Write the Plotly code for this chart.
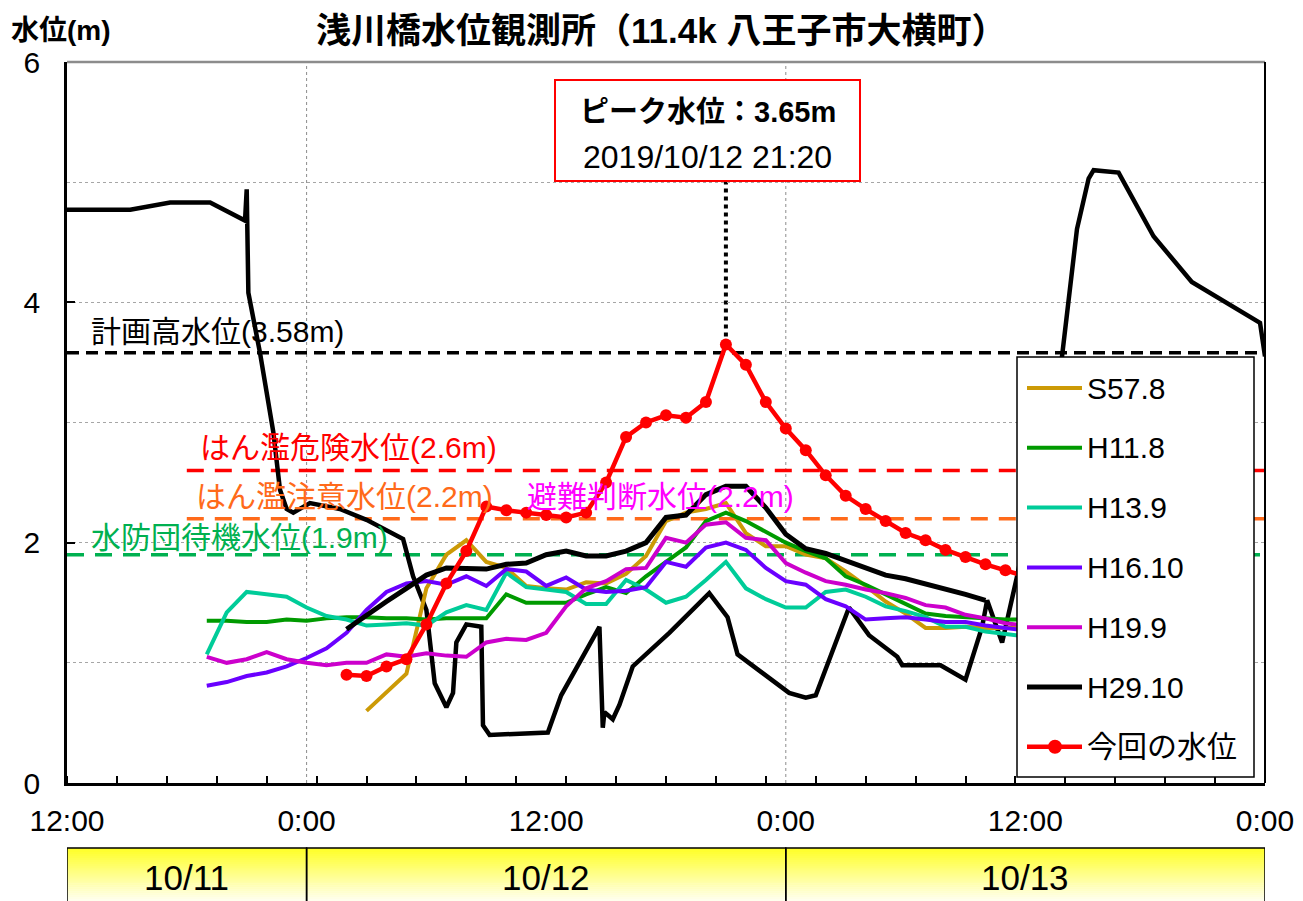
import plotly.graph_objects as go
import pandas as pd

# ---------------- data ----------------
TITLE = "浅川橋水位観測所（11.4k 八王子市大横町）"
Y_TITLE = "水位(m)"
X_RANGE = ["2019-10-11 12:00", "2019-10-14 00:00"]
X_TICKS = ["2019-10-11 12:00", "2019-10-12 00:00", "2019-10-12 12:00",
           "2019-10-13 00:00", "2019-10-13 12:00", "2019-10-14 00:00"]
X_TICKTEXT = ["12:00", "0:00", "12:00", "0:00", "12:00", "0:00"]
DAY_BANDS = [("2019-10-11 12:00", "2019-10-12 00:00", "10/11"),
             ("2019-10-12 00:00", "2019-10-13 00:00", "10/12"),
             ("2019-10-13 00:00", "2019-10-14 00:00", "10/13")]
Y_TICKS = [0, 2, 4, 6]

# hourly series (start time, values)
S57_8_START = "2019-10-12 03:00"
S57_8 = [0.60, 0.76, 0.91, 1.62, 1.90, 2.02, 1.84, 1.79, 1.64, 1.62, 1.61, 1.67,
         1.66, 1.74, 1.89, 2.18, 2.25, 2.28, 2.33, 2.08, 1.97, 1.97, 1.90, 1.87,
         1.76, 1.64, 1.51, 1.41, 1.29, 1.29, 1.30, 1.29, 1.29, 1.29]

H11_8_START = "2019-10-11 19:00"
H11_8 = [1.35, 1.35, 1.34, 1.34, 1.36,
         1.35, 1.37, 1.38, 1.38, 1.37, 1.37, 1.36, 1.37, 1.37, 1.37, 1.57, 1.50,
         1.50, 1.50, 1.57, 1.63, 1.58, 1.72, 1.84, 1.96, 2.18, 2.25, 2.18, 2.09,
         2.00, 1.93, 1.87, 1.72, 1.65, 1.57, 1.49, 1.41, 1.39, 1.38, 1.37, 1.36, 1.36]

H13_9_START = "2019-10-11 19:00"
H13_9 = [1.07, 1.42, 1.59, 1.57, 1.55,
         1.46, 1.39, 1.36, 1.31, 1.32, 1.33, 1.31, 1.42, 1.48, 1.44, 1.75, 1.63,
         1.61, 1.59, 1.49, 1.49, 1.69, 1.61, 1.50, 1.55, 1.69, 1.84, 1.62, 1.53,
         1.46, 1.46, 1.59, 1.61, 1.55, 1.47, 1.43, 1.38, 1.30, 1.30, 1.26, 1.24, 1.22]

H16_10_START = "2019-10-11 19:00"
H16_10 = [0.81, 0.84, 0.89, 0.92, 0.97,
          1.04, 1.12, 1.25, 1.44, 1.59, 1.66, 1.68, 1.65, 1.72, 1.64, 1.78, 1.76,
          1.64, 1.71, 1.61, 1.59, 1.60, 1.63, 1.84, 1.80, 1.96, 2.00, 1.94, 1.79,
          1.68, 1.65, 1.53, 1.47, 1.36, 1.37, 1.38, 1.36, 1.34, 1.34, 1.31, 1.29, 1.27]

H19_9_START = "2019-10-11 19:00"
H19_9 = [1.05, 1.00, 1.03, 1.09, 1.03,
         1.00, 0.98, 1.00, 1.00, 1.07, 1.05, 1.08, 1.06, 1.05, 1.17, 1.20, 1.19,
         1.25, 1.47, 1.62, 1.68, 1.78, 1.79, 2.04, 2.00, 2.15, 2.17, 2.04, 2.02,
         1.83, 1.75, 1.68, 1.65, 1.61, 1.58, 1.54, 1.48, 1.46, 1.40, 1.37, 1.33, 1.31]

H29_10_START = "2019-10-12 02:00"
H29_10 = [1.28, 1.40, 1.51, 1.62, 1.73, 1.79, 1.79, 1.78, 1.82, 1.83, 1.90, 1.93,
          1.89, 1.89, 1.93, 2.00, 2.21, 2.23, 2.40, 2.47, 2.47, 2.29,
          2.07, 1.95, 1.91, 1.85, 1.79, 1.73, 1.70, 1.66, 1.61, 1.57, 1.52]

NOW_START = "2019-10-12 02:00"
NOW = [0.90, 0.89, 0.97, 1.03, 1.32, 1.66, 1.93, 2.30, 2.27, 2.25, 2.23, 2.21,
       2.25, 2.50, 2.88, 3.00, 3.06, 3.04, 3.17, 3.65, 3.48, 3.17,
       2.95, 2.77, 2.56, 2.39, 2.28, 2.18, 2.08, 2.02, 1.94, 1.88, 1.82, 1.77, 1.72]

# irregular black record (no legend entry)
BLACK2_T = ["2019-10-11 12:00", "2019-10-11 15:10", "2019-10-11 17:10", "2019-10-11 19:10",
            "2019-10-11 20:55", "2019-10-11 21:00", "2019-10-11 21:05", "2019-10-11 21:40",
            "2019-10-11 22:20", "2019-10-11 22:40", "2019-10-11 23:00", "2019-10-11 23:20",
            "2019-10-12 00:10", "2019-10-12 01:40", "2019-10-12 03:00", "2019-10-12 04:50",
            "2019-10-12 05:20", "2019-10-12 06:00", "2019-10-12 06:25", "2019-10-12 07:00",
            "2019-10-12 07:20", "2019-10-12 07:30", "2019-10-12 08:00", "2019-10-12 08:45",
            "2019-10-12 08:50", "2019-10-12 09:10", "2019-10-12 12:05", "2019-10-12 12:45",
            "2019-10-12 14:40", "2019-10-12 14:50", "2019-10-12 14:55", "2019-10-12 15:20",
            "2019-10-12 15:40", "2019-10-12 16:20", "2019-10-12 18:10", "2019-10-12 20:10",
            "2019-10-12 21:05", "2019-10-12 21:35", "2019-10-13 00:10", "2019-10-13 01:00",
            "2019-10-13 01:30", "2019-10-13 03:10", "2019-10-13 04:10", "2019-10-13 05:35",
            "2019-10-13 05:50", "2019-10-13 07:45", "2019-10-13 09:00", "2019-10-13 09:50",
            "2019-10-13 10:05", "2019-10-13 10:50", "2019-10-13 11:35", "2019-10-13 13:50",
            "2019-10-13 14:35", "2019-10-13 15:10", "2019-10-13 15:25", "2019-10-13 16:40",
            "2019-10-13 18:25", "2019-10-13 20:20", "2019-10-13 23:45", "2019-10-14 00:00"]
BLACK2_V = [4.77, 4.77, 4.83, 4.83,
            4.68, 4.94, 4.08, 3.58,
            2.92, 2.44, 2.28, 2.25,
            2.33, 2.28, 2.19, 2.03,
            1.72, 1.44, 0.83, 0.63,
            0.75, 1.17, 1.32, 1.30,
            0.48, 0.40, 0.42, 0.73,
            1.30, 0.46, 0.59, 0.53,
            0.65, 0.97, 1.25, 1.58,
            1.38, 1.07, 0.75, 0.71,
            0.73, 1.46, 1.23, 1.05,
            0.98, 0.98, 0.86, 1.30,
            1.52, 1.17, 1.72, 3.55,
            4.61, 5.03, 5.10, 5.08,
            4.55, 4.17, 3.83, 3.55]

# reference levels
LEVELS = [  # (value, label, color, line start)
    (3.58, "計画高水位(3.58m)", "#000000", "2019-10-11 12:00"),
    (2.6, "はん濫危険水位(2.6m)", "#FF0000", "2019-10-11 18:00"),
    (2.2, "はん濫注意水位(2.2m)", "#FF6A1A", "2019-10-11 18:00"),
    (1.9, "水防団待機水位(1.9m)", "#00B050", "2019-10-11 12:00"),
]
EXTRA_LABEL = "避難判断水位(2.2m)"
PEAK_TEXT1 = "ピーク水位：3.65m"
PEAK_TEXT2 = "2019/10/12 21:20"

# ---------------- styles ----------------
FONT = "Liberation Sans, Noto Sans CJK JP, sans-serif"
SERIES = [  # (name, start, values, color, width)
    ("S57.8", S57_8_START, S57_8, "#CC9A06", 4),
    ("H11.8", H11_8_START, H11_8, "#009A00", 4),
    ("H13.9", H13_9_START, H13_9, "#00CC99", 4),
    ("H16.10", H16_10_START, H16_10, "#6A00FF", 4),
    ("H19.9", H19_9_START, H19_9, "#CC00CC", 4),
    ("H29.10", H29_10_START, H29_10, "#000000", 5),
]
NOW_NAME = "今回の水位"
NOW_COLOR = "#FF0000"

# pixel layout of plot area (screen coordinates; page has an 8px body offset)
OFF = 8
PL, PR, PT, PB = 67, 1265, 62, 783
W, H = 1303 - OFF, 901 - OFF


def px_x(p):
    return (p - PL) / (PR - PL)


def px_y(p):
    return (PB - p) / (PB - PT)


def hourly(start, n):
    return pd.date_range(start, periods=n, freq="h")


fig = go.Figure()

# black irregular record
fig.add_trace(go.Scatter(x=pd.to_datetime(BLACK2_T), y=BLACK2_V, mode="lines",
                         line=dict(color="black", width=4.5), name="", showlegend=False,
                         hoverinfo="x+y"))

for name, start, vals, color, width in SERIES:
    fig.add_trace(go.Scatter(x=hourly(start, len(vals)), y=vals, mode="lines",
                             line=dict(color=color, width=width), name=name))

now_x = hourly(NOW_START, len(NOW))
fig.add_trace(go.Scatter(x=now_x, y=NOW, mode="lines+markers", name=NOW_NAME,
                         line=dict(color=NOW_COLOR, width=4.5),
                         marker=dict(color=NOW_COLOR, size=12)))

shapes = []
annotations = []

# vertical dotted grid lines at 0:00
for t in ["2019-10-12 00:00", "2019-10-13 00:00"]:
    shapes.append(dict(type="line", xref="x", yref="paper", x0=t, x1=t, y0=0, y1=1,
                       line=dict(color="#8C8C8C", width=1, dash="dot"), layer="below"))

# reference level lines + labels
label_shift = {3.58: 21, 2.6: 23, 2.2: 22, 1.9: 17}
label_x = {3.58: 89, 2.6: 198, 2.2: 194, 1.9: 89}
dash_pat = {3.58: "12px,7px", 2.6: "17px,11px", 2.2: "17px,11px", 1.9: "17px,11px"}
for val, lab, col, start in LEVELS:
    shapes.append(dict(type="line", xref="x", yref="y", x0=start, x1=X_RANGE[1],
                       y0=val, y1=val, line=dict(color=col, width=3.5, dash=dash_pat[val]),
                       layer="below"))
    annotations.append(dict(xref="paper", yref="y", x=px_x(label_x[val]), y=val,
                            yshift=label_shift[val], xanchor="left", yanchor="middle",
                            text=lab, showarrow=False,
                            font=dict(family=FONT, size=30, color=col)))
annotations.append(dict(xref="paper", yref="y", x=px_x(525), y=2.2, yshift=22,
                        xanchor="left", yanchor="middle", text=EXTRA_LABEL, showarrow=False,
                        font=dict(family=FONT, size=30, color="#FF00FF")))

# peak marker line and box
peak_i = max(range(len(NOW)), key=lambda i: NOW[i])
peak_t = now_x[peak_i]
box_l, box_r, box_t, box_b = 555, 860, 80, 181
shapes.append(dict(type="line", xref="x", yref="y", x0=peak_t, x1=peak_t,
                   y0=NOW[peak_i], y1=(PB - box_b) / (PB - PT) * 6,
                   line=dict(color="black", width=4, dash="dot"), layer="below"))
shapes.append(dict(type="rect", xref="paper", yref="paper",
                   x0=px_x(box_l), x1=px_x(box_r), y0=px_y(box_b), y1=px_y(box_t),
                   fillcolor="white", line=dict(color="#FF0000", width=2), layer="above"))
annotations.append(dict(xref="paper", yref="paper", x=px_x((box_l + box_r) / 2), y=px_y(112),
                        text="<b>" + PEAK_TEXT1 + "</b>", showarrow=False,
                        xanchor="center", yanchor="middle",
                        font=dict(family=FONT, size=29, color="black")))
annotations.append(dict(xref="paper", yref="paper", x=px_x((box_l + box_r) / 2), y=px_y(157),
                        text=PEAK_TEXT2, showarrow=False, xanchor="center", yanchor="middle",
                        font=dict(family=FONT, size=32, color="black")))

# plot frame: top gray, right black
shapes.append(dict(type="line", xref="paper", yref="paper", x0=0, x1=1, y0=1, y1=1,
                   line=dict(color="#8C8C8C", width=2.5), layer="above"))
shapes.append(dict(type="line", xref="paper", yref="paper", x0=1, x1=1, y0=0, y1=1,
                   line=dict(color="black", width=2), layer="above"))

# manual legend
lg_l, lg_r, lg_t, lg_b = 1017, 1254, 357, 777
shapes.append(dict(type="rect", xref="paper", yref="paper",
                   x0=px_x(lg_l), x1=px_x(lg_r), y0=px_y(lg_b), y1=px_y(lg_t),
                   fillcolor="white", line=dict(color="black", width=1.5), layer="above"))
legend_items = [(n, c, w, False) for n, _, _, c, w in SERIES] + [(NOW_NAME, NOW_COLOR, 4.5, True)]
for i, (n, c, w, mk) in enumerate(legend_items):
    yc = 388 + i * 59.8
    shapes.append(dict(type="line", xref="paper", yref="paper",
                       x0=px_x(1027), x1=px_x(1082), y0=px_y(yc), y1=px_y(yc),
                       line=dict(color=c, width=w), layer="above"))
    if mk:
        r = 7
        shapes.append(dict(type="circle", xref="paper", yref="paper",
                           x0=px_x(1055 - r), x1=px_x(1055 + r),
                           y0=px_y(yc + r), y1=px_y(yc - r),
                           fillcolor=c, line=dict(color=c, width=0), layer="above"))
    annotations.append(dict(xref="paper", yref="paper", x=px_x(1085), y=px_y(yc),
                            xanchor="left", yanchor="middle", text=n, showarrow=False,
                            font=dict(family=FONT, size=30, color="black")))

# date band under the axis (vertical yellow gradient)
band_top, band_bot = 848, 903
n_strips = 28
step = (band_bot - band_top) / n_strips
for k in range(n_strips):
    f = k / (n_strips - 1)
    b = int(round(40 + f * (245 - 40)))
    col = f"rgb(255,255,{b})"
    shapes.append(dict(type="rect", xref="paper", yref="paper",
                       x0=0, x1=1, y0=px_y(band_top + (k + 1) * step + 0.5),
                       y1=px_y(band_top + k * step), fillcolor=col,
                       line=dict(width=0), layer="above"))
for t0, t1, lab in DAY_BANDS:
    shapes.append(dict(type="rect", xref="x", yref="paper", x0=t0, x1=t1,
                       y0=px_y(band_bot), y1=px_y(band_top),
                       line=dict(color="black", width=1.5), fillcolor="rgba(0,0,0,0)",
                       layer="above"))
    mid = pd.Timestamp(t0) + (pd.Timestamp(t1) - pd.Timestamp(t0)) / 2
    annotations.append(dict(xref="x", yref="paper", x=mid, y=px_y(877), text=lab,
                            showarrow=False, xanchor="center", yanchor="middle",
                            font=dict(family=FONT, size=35, color="black")))

# title and y-axis caption
annotations.append(dict(xref="paper", yref="paper", x=px_x(661), y=px_y(30),
                        text="<b>" + TITLE + "</b>", showarrow=False,
                        xanchor="center", yanchor="middle",
                        font=dict(family=FONT, size=35, color="black")))
annotations.append(dict(xref="paper", yref="paper", x=px_x(9), y=px_y(30),
                        text="<b>" + Y_TITLE + "</b>", showarrow=False,
                        xanchor="left", yanchor="middle",
                        font=dict(family=FONT, size=28, color="black")))

fig.update_layout(
    width=W, height=H,
    margin=dict(l=PL - OFF, r=(W + OFF) - PR, t=PT - OFF, b=(H + OFF) - PB, pad=0,
                autoexpand=False),
    plot_bgcolor="white", paper_bgcolor="white",
    showlegend=False,
    font=dict(family=FONT, size=30, color="black"),
    shapes=shapes, annotations=annotations,
)
fig.update_xaxes(type="date", range=X_RANGE, tickvals=X_TICKS, ticktext=X_TICKTEXT,
                 ticks="", showgrid=False, zeroline=False, automargin=False,
                 showline=True, linecolor="black", linewidth=2.5,
                 tickfont=dict(family=FONT, size=30), ticklabelstandoff=9,
                 minor=dict(ticks="inside", ticklen=7, tickwidth=1.5, tickcolor="black",
                            tick0=X_RANGE[0], dtick=2.5 * 3600 * 1000, showgrid=False))
fig.update_yaxes(range=[0, 6], tickvals=Y_TICKS, ticktext=[str(v) for v in Y_TICKS],
                 ticks="inside", ticklen=8, tickwidth=1.5, tickcolor="black",
                 showgrid=True, gridcolor="#A6A6A6", griddash="dot", gridwidth=1,
                 minor=dict(dtick=1, showgrid=True, gridcolor="#A6A6A6", griddash="dot",
                            gridwidth=1, ticks=""),
                 zeroline=False, automargin=False, showline=True, linecolor="black",
                 linewidth=2.5, tickfont=dict(family=FONT, size=30), ticklabelstandoff=18)

fig.write_html("out.html")
